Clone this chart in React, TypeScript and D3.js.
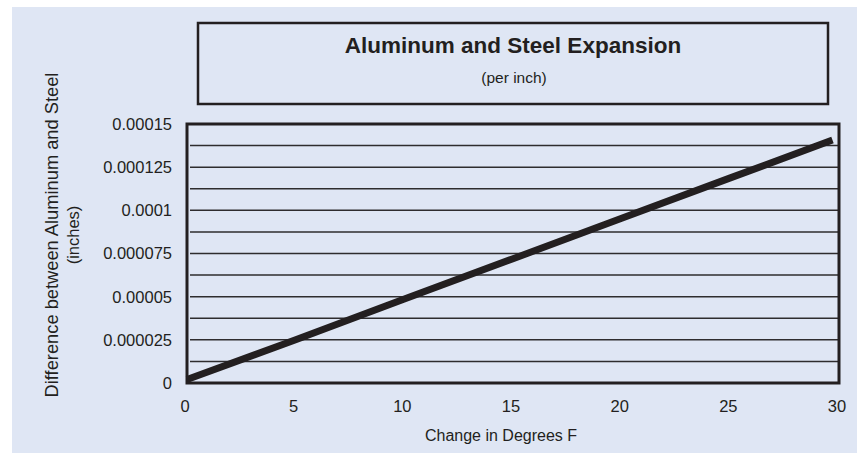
import React from "react";
import * as d3 from "d3";

// values
const degrees = [0, 5, 10, 15, 20, 25, 29.7];
const difference = [0.000002, 0.000025, 0.0000487, 0.000072, 0.0000954, 0.0001188, 0.0001407];

const xTicks = [0, 5, 10, 15, 20, 25, 30];
const yTicks = [0, 0.000025, 0.00005, 0.000075, 0.0001, 0.000125, 0.00015];
const yTickLabels = ["0", "0.000025", "0.00005", "0.000075", "0.0001", "0.000125", "0.00015"];
const gridValues = [0.0000125, 0.000025, 0.0000375, 0.00005, 0.0000625, 0.000075, 0.0000875, 0.0001, 0.0001125, 0.000125, 0.0001375];

const W = 857;
const H = 453;
const plot = { left: 187, right: 839, top: 124, bottom: 383 };
const font = "'Liberation Sans', Arial, Helvetica, sans-serif";
const ink = "#231f20";

export default function App() {
  const x = d3.scaleLinear().domain([0, 30]).range([plot.left, plot.right]);
  const y = d3.scaleLinear().domain([0, 0.00015]).range([plot.bottom, plot.top]);

  const line = d3
    .line<number>()
    .x((_, i) => x(degrees[i]))
    .y((d) => y(d));

  return (
    <svg
      width={W}
      height={H}
      style={{ position: "fixed", left: 0, top: 0, display: "block" }}
      fontFamily={font}
    >
      <rect x={0} y={0} width={W} height={H} fill="#ffffff" />
      <rect x={12} y={7} width={W - 12} height={H - 7} fill="#dfe6f4" />

      {/* title box */}
      <rect x={198} y={23} width={630} height={81} fill="none" stroke={ink} strokeWidth={2.5} />
      <text x={513} y={53} textAnchor="middle" fontWeight="bold" fontSize={22.5} fill={ink}>
        Aluminum and Steel Expansion
      </text>
      <text x={514} y={83} textAnchor="middle" fontSize={15.5} fill={ink}>
        (per inch)
      </text>

      {/* gridlines */}
      {gridValues.map((v) => (
        <line
          key={v}
          x1={plot.left + 3}
          x2={plot.right}
          y1={y(v)}
          y2={y(v)}
          stroke="#2e2c2e"
          strokeWidth={1.5}
        />
      ))}

      {/* plot frame */}
      <rect
        x={plot.left}
        y={plot.top}
        width={plot.right - plot.left}
        height={plot.bottom - plot.top}
        fill="none"
        stroke={ink}
        strokeWidth={3}
      />

      {/* series */}
      <path d={line(difference) || ""} fill="none" stroke={ink} strokeWidth={7} strokeLinecap="butt" />

      {/* y tick labels */}
      {yTicks.map((t, i) => (
        <text key={t} x={172} y={y(t)} dy="0.36em" textAnchor="end" fontSize={16.5} fill={ink}>
          {yTickLabels[i]}
        </text>
      ))}

      {/* x tick labels */}
      {xTicks.map((t) => (
        <text key={t} x={x(t) - 2} y={412} textAnchor="middle" fontSize={16.5} fill={ink}>
          {t}
        </text>
      ))}

      <text x={501} y={441} textAnchor="middle" fontSize={16} fill={ink}>
        Change in Degrees F
      </text>

      <g transform="translate(58,235) rotate(-90)">
        <text x={0} y={0} textAnchor="middle" fontSize={18.3} fill={ink}>
          Difference between Aluminum and Steel
        </text>
        <text x={0} y={21} textAnchor="middle" fontSize={16.5} fill={ink}>
          (inches)
        </text>
      </g>
    </svg>
  );
}
